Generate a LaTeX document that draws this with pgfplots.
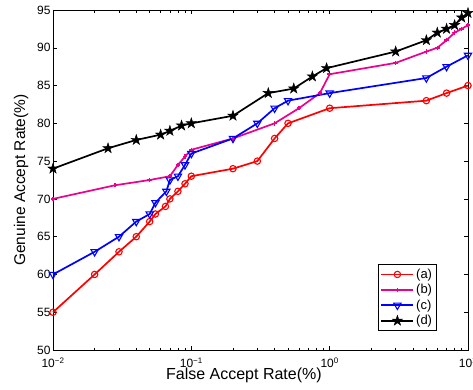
\documentclass[border=0pt]{standalone}
\usepackage{fontspec}
\setmainfont{Liberation Sans}
\usepackage{pgfplots}
\pgfplotsset{compat=1.18}
\pgfdeclareplotmark{pentagram}{%
  \pgfpathmoveto{\pgfpointpolar{90}{\pgfplotmarksize}}%
  \pgfpathlineto{\pgfpointpolar{126}{0.382*\pgfplotmarksize}}%
  \pgfpathlineto{\pgfpointpolar{162}{\pgfplotmarksize}}%
  \pgfpathlineto{\pgfpointpolar{198}{0.382*\pgfplotmarksize}}%
  \pgfpathlineto{\pgfpointpolar{234}{\pgfplotmarksize}}%
  \pgfpathlineto{\pgfpointpolar{270}{0.382*\pgfplotmarksize}}%
  \pgfpathlineto{\pgfpointpolar{306}{\pgfplotmarksize}}%
  \pgfpathlineto{\pgfpointpolar{342}{0.382*\pgfplotmarksize}}%
  \pgfpathlineto{\pgfpointpolar{18}{\pgfplotmarksize}}%
  \pgfpathlineto{\pgfpointpolar{54}{0.382*\pgfplotmarksize}}%
  \pgfpathclose
  \pgfusepathqfillstroke
}
\begin{document}
\begin{tikzpicture}
\begin{axis}[name=ax, scale only axis, width=415pt, height=340pt,
  xmode=log, xmin=0.01, xmax=10, ymin=50, ymax=95,
  ytick={50,55,...,95},
  xtick={0.01,0.1,1,10},
  xticklabels={10\textsuperscript{−2},10\textsuperscript{−1},10\textsuperscript{0},10\textsuperscript{1}},
  minor xtick={0.02,0.03,0.04,0.05,0.06,0.07,0.08,0.09,0.2,0.3,0.4,0.5,0.6,0.7,0.8,0.9,2,3,4,5,6,7,8,9},
  tick align=inside, xtick pos=both, ytick pos=both,
  major tick length=4pt, minor tick length=2.5pt,
  axis line style={line width=0.8pt},
  every tick/.style={black, line width=0.5pt},
  tick label style={font=\fontsize{12}{14}\selectfont},
  yticklabel style={xshift=1pt},
  xticklabel style={yshift=-4pt},
  /pgf/number format/assume math mode=true,
  xlabel={False Accept Rate(\%)}, ylabel={Genuine Accept Rate(\%)},
  xlabel style={font=\fontsize{16}{18}\selectfont, at={(axis description cs:0.46,0)}, anchor=base, yshift=-29pt},
  ylabel style={font=\fontsize{15.5}{18}\selectfont, at={(axis description cs:-0.077,0.5)}, anchor=center},
  clip=false,
  legend style={at={(0.925,0.056)}, anchor=south east, font=\fontsize{13}{15}\selectfont,
    draw=black, line width=0.6pt, row sep=0.5pt, inner sep=2.5pt},
  legend cell align=left,
  legend image code/.code={\draw[mark repeat=2,mark phase=2] plot coordinates {(0cm,0cm)(0.56cm,0cm)(1.12cm,0cm)};},
]
\addplot[red, line width=1.7pt, mark=o, mark size=3.2pt, mark options={line width=1.1pt}] coordinates {
(0.01,55)(0.02,60)(0.03,63)(0.04,65)(0.05,67)(0.055,68)(0.065,69)(0.07,70)(0.08,71)(0.09,72)(0.1,73)(0.2,74)(0.3,75)(0.4,78)(0.5,80)(1,82)(5,83)(7,84)(10,85)};
\addlegendentry{(a)}
\addplot[magenta, line width=1.7pt, mark=+, mark size=2.2pt, mark options={line width=1.5pt}] coordinates {
(0.01,70)(0.028,71.8)(0.05,72.5)(0.07,73)(0.08,74.5)(0.09,75.6)(0.1,76.5)(0.2,78)(0.4,80)(0.6,82)(0.85,84)(1,86.5)(3,88)(5,89.5)(6,90)(7,91)(8,92)(9,92.5)(10,93)};
\addlegendentry{(b)}
\addplot[blue, line width=1.7pt, mark=triangle, mark size=4.2pt, mark options={rotate=180, line width=1.1pt}] coordinates {
(0.01,60)(0.02,63)(0.03,65)(0.04,67)(0.05,68)(0.055,69.5)(0.066,71)(0.07,72.5)(0.08,73)(0.09,74.5)(0.1,76)(0.2,78)(0.3,80)(0.4,82)(0.5,83)(1,84)(5,86)(7,87.5)(10,89)};
\addlegendentry{(c)}
\addplot[black, line width=1.7pt, mark=pentagram, mark size=5.5pt, mark options={line width=0.4pt}] coordinates {
(0.01,74)(0.025,76.7)(0.04,77.8)(0.06,78.5)(0.07,79)(0.085,79.7)(0.1,80)(0.2,81)(0.36,84)(0.55,84.6)(0.75,86.2)(0.95,87.3)(3,89.5)(5,91)(6,92)(7,92.5)(8,93)(9,94)(10,94.6)};
\addlegendentry{(d)}
\end{axis}
\pgfresetboundingbox
\path (ax.south west) ++(-53pt,-39pt) rectangle ++(473pt,389pt);
\end{tikzpicture}
\end{document}
